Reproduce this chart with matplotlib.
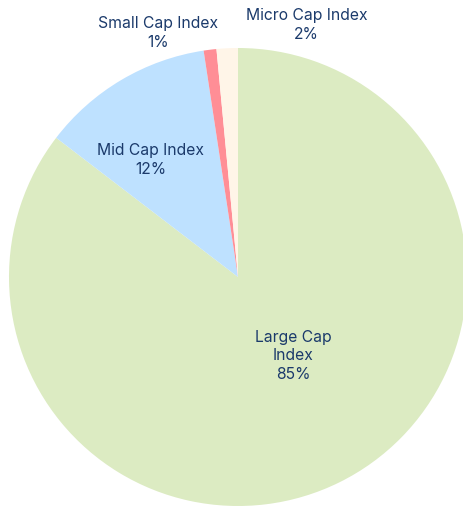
import numpy as np
from matplotlib import pyplot as plt

names = ['Large Cap\nIndex', 'Mid Cap Index', 'Small Cap Index', 'Micro Cap Index']
values = [85.4, 12.2, 0.9, 1.5]
pct_labels = ['85%', '12%', '1%', '2%']
colors = ['#DCEBC2', '#BEE1FF', '#FF8E96', '#FFF5E8']
txt_color = '#1B3A6B'

plt.rcParams['font.family'] = ['Inter', 'DejaVu Sans']

fig = plt.figure(figsize=(4.64, 5.10), dpi=100)
ax = fig.add_axes([0, 0, 1, 1])
ax.pie(values, colors=colors, startangle=90, counterclock=False, radius=1.0,
       wedgeprops=dict(linewidth=0))
ax.set_xlim(-238 / 229, (464 - 238) / 229)
ax.set_ylim(-(510 - 278) / 229, 278 / 229)
ax.set_aspect('auto')
ax.axis('off')

# label positions (axes data coords)
label_pos = [(0.24, -0.34), (-0.38, 0.515), (-0.35, 1.07), (0.30, 1.105)]
for n, p, (x, y) in zip(names, pct_labels, label_pos):
    ax.text(x, y, n + '\n' + p, ha='center', va='center', fontsize=11.3,
            color=txt_color, linespacing=1.3)

fig.savefig('out.png', dpi=100)
